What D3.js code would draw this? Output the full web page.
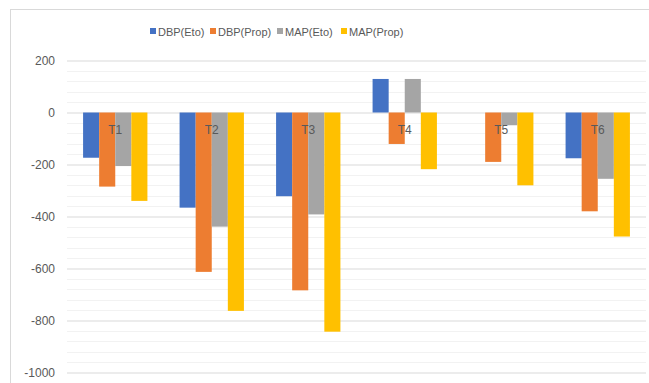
<!DOCTYPE html>
<html>
<head>
<meta charset="utf-8">
<script src="https://cdn.jsdelivr.net/npm/d3@7"></script>
<style>
  body { margin: 0; background: #fff; }
  text { font-family: "Liberation Sans", Arial, sans-serif; }
</style>
</head>
<body>
<svg id="chart" width="649" height="383"></svg>
<script>
// data
var categories = ["T1", "T2", "T3", "T4", "T5", "T6"];
var seriesNames = ["DBP(Eto)", "DBP(Prop)", "MAP(Eto)", "MAP(Prop)"];
var dbpEto  = [-174, -366, -322, 129, 0, -176];
var dbpProp = [-285, -613, -684, -121, -190, -380];
var mapEto  = [-206, -439, -392, 129, -49, -255];
var mapProp = [-340, -763, -843, -218, -280, -477];
var yTicks = [200, 0, -200, -400, -600, -800, -1000];

var colors = ["#4472C4", "#ED7D31", "#A5A5A5", "#FFC000"];
var allSeries = [dbpEto, dbpProp, mapEto, mapProp];

var svg = d3.select("#chart");

// outer chart frame
svg.append("rect")
   .attr("x", 10.5).attr("y", 9.5)
   .attr("width", 660).attr("height", 400)
   .attr("fill", "#fff").attr("stroke", "#d9d9d9").attr("stroke-width", 1);

var plotLeft = 67, plotRight = 646, plotTop = 60.5, plotBottom = 372.5;

var x = d3.scaleBand().domain(categories).range([plotLeft, plotRight])
          .paddingInner(1/3).paddingOuter(1/6);
var xs = d3.scaleBand().domain(d3.range(seriesNames.length)).range([0, x.bandwidth()]);
var y = d3.scaleLinear().domain([-1000, 200]).range([plotBottom, plotTop]);

// minor gridlines
var g = svg.append("g");
g.selectAll("line.minor")
   .data(d3.range(-1000, 201, 40).filter(function(v){ return v % 200 != 0; }))
   .enter().append("line")
   .attr("class", "minor")
   .attr("x1", plotLeft).attr("x2", plotRight)
   .attr("y1", function(d){ return Math.round(y(d)) + 0.5; })
   .attr("y2", function(d){ return Math.round(y(d)) + 0.5; })
   .attr("stroke", "#f2f2f2").attr("stroke-width", 1);

// major gridlines
var yAxis = d3.axisLeft(y).tickValues(yTicks)
   .tickFormat(function(d){ return String(d); })
   .tickSize(-(plotRight - plotLeft)).tickPadding(12);
var ax = svg.append("g").attr("transform", "translate(" + plotLeft + ",0)").call(yAxis);
ax.select(".domain").remove();
ax.selectAll(".tick line").attr("stroke", "#d9d9d9");
ax.selectAll(".tick text").attr("fill", "#595959").attr("font-size", "12px")
  .attr("font-family", "Liberation Sans, Arial, sans-serif");

// bars
allSeries.forEach(function(vals, s){
  svg.append("g").selectAll("rect")
     .data(vals)
     .enter().append("rect")
     .attr("x", function(d, i){ return x(categories[i]) + xs(s); })
     .attr("y", function(d){ return y(Math.max(0, d)); })
     .attr("width", xs.bandwidth())
     .attr("height", function(d){ return Math.abs(y(d) - y(0)); })
     .attr("fill", colors[s]);
});

// category labels (sit just under the zero line)
svg.append("g").selectAll("text")
   .data(categories)
   .enter().append("text")
   .attr("x", function(d){ return x(d) + x.bandwidth() / 2; })
   .attr("y", y(0) + 21)
   .attr("text-anchor", "middle")
   .attr("font-size", "12px")
   .attr("fill", "#595959")
   .text(function(d){ return d; });

// legend
var legendX = [150, 210, 277, 341];
var lg = svg.append("g");
seriesNames.forEach(function(name, i){
  lg.append("rect")
    .attr("x", legendX[i]).attr("y", 28)
    .attr("width", 6).attr("height", 6)
    .attr("fill", colors[i]);
  lg.append("text")
    .attr("x", legendX[i] + 8).attr("y", 35.5)
    .attr("font-size", "11px")
    .attr("fill", "#595959")
    .text(name);
});
</script>
</body>
</html>
